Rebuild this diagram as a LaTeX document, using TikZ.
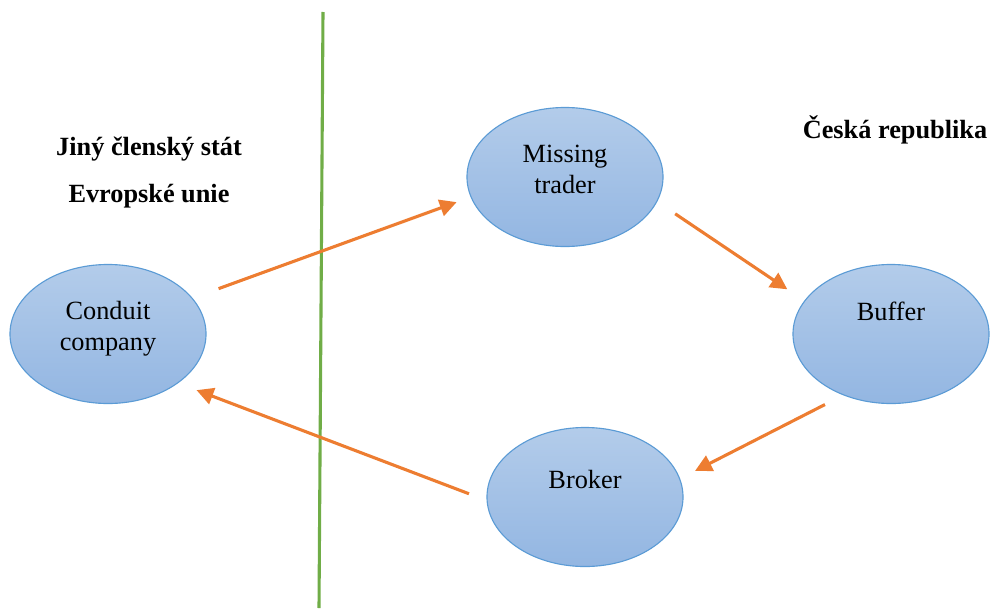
\documentclass[tikz,border=0pt]{standalone}
\usepackage{fontspec}
\setmainfont{Liberation Serif}[BoldFont = Liberation Serif Bold]
\usetikzlibrary{arrows.meta,shapes.geometric}

\definecolor{firmedge}{HTML}{5B9BD5}
\definecolor{firmtop}{HTML}{B3CCEA}
\definecolor{firmbottom}{HTML}{93B6E2}
\definecolor{flowcol}{HTML}{ED7D31}
\definecolor{bordercol}{HTML}{70AD47}

\begin{document}
\begin{tikzpicture}[x = 0.025cm, y = -0.025cm,
    firm/.style = {ellipse, draw = firmedge, line width = 0.8pt,
      top color = firmtop, bottom color = firmbottom,
      minimum width = 4.9cm, minimum height = 3.475cm, inner sep = 0pt},
    firmtext/.style = {align = center, anchor = base, inner sep = 0pt,
      font = \fontsize{18.7}{21.5}\selectfont},
    statetext/.style = {align = center, anchor = base, inner sep = 0pt,
      font = \fontsize{18.7}{33.4}\selectfont\bfseries},
    flow/.style = {draw = flowcol, line width = 2.2pt,
      -{Triangle[length = 0.42cm, width = 0.42cm]}}]
  \useasboundingbox (0, 0) rectangle (992, 611);

  % border between the two states
  \draw[bordercol, line width = 2.2pt] (323, 12) -- (319, 608);

  % base sits on the last line of a node
  \node[statetext] (other) at (149, 202) {Jiný členský stát\\Evropské unie};
  \node[statetext] (home) at (895, 138) {Česká republika};

  % the four firms of the chain
  \node[firm] (conduit) at (108, 334) {};
  \node[firm] (missing) at (565, 177) {};
  \node[firm] (buffer) at (891, 334) {};
  \node[firm] (broker) at (585, 497) {};

  \node[firmtext] (conduitname) at ([yshift = -0.4cm]conduit.center) {Conduit\\company};
  \node[firmtext] (missingname) at ([yshift = -0.4cm]missing.center) {Missing\\trader};
  \node[firmtext] (buffername) at ([yshift = 0.35cm]buffer.center) {Buffer};
  \node[firmtext] (brokername) at ([yshift = 0.225cm]broker.center) {Broker};

  % flow of goods round the carousel
  \draw[flow, shorten < = 0.69cm, shorten > = 0.37cm] (conduit.23) -- (missing.192);
  \draw[flow, shorten < = 0.54cm, shorten > = 0.51cm] (missing.345) -- (buffer.159);
  \draw[flow, shorten < = 0.51cm, shorten > = 0.42cm] (buffer.232) -- (broker.11);
  \draw[flow, shorten < = 0.47cm, shorten > = 0.49cm] (broker.182) -- (conduit.325);
\end{tikzpicture}
\end{document}
